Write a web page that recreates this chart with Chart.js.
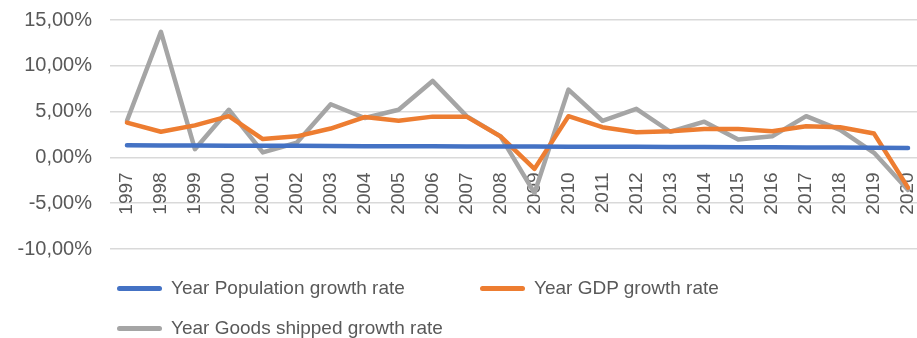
<!DOCTYPE html>
<html>
<head>
<meta charset="utf-8">
<script src="https://cdn.jsdelivr.net/npm/chart.js@4/dist/chart.umd.min.js"></script>
<style>
    html, body {
        margin: 0;
        padding: 0;
        overflow: hidden;
        background: #ffffff;
    }
    #wrap {
        position: relative;
        width: 926px;
        height: 338px;
    }
    #legend {
        position: absolute;
        left: 117px;
        top: 268px;
        display: grid;
        grid-template-columns: 363px auto;
        grid-auto-rows: 40px;
        align-items: center;
        font-family: "Liberation Sans", Arial, sans-serif;
        font-size: 19px;
        color: #595959;
    }
    #legend .item {
        display: flex;
        align-items: center;
        white-space: nowrap;
    }
    #legend .swatch {
        display: inline-block;
        width: 45px;
        height: 5px;
        border-radius: 3px;
        margin-right: 9px;
    }
</style>
</head>
<body>
<div id="wrap">
    <canvas id="growthChart"></canvas>
    <div id="legend"></div>
</div>
<script>
const years = ['1997', '1998', '1999', '2000', '2001', '2002', '2003', '2004', '2005', '2006', '2007', '2008',
    '2009', '2010', '2011', '2012', '2013', '2014', '2015', '2016', '2017', '2018', '2019', '2020'];

// growth rates in percent
const populationGrowth = [1.33, 1.31, 1.3, 1.28, 1.27, 1.26, 1.24, 1.23, 1.22, 1.21, 1.2, 1.2,
    1.19, 1.17, 1.16, 1.15, 1.14, 1.13, 1.12, 1.11, 1.09, 1.07, 1.05, 1.02];
const gdpGrowth = [3.8, 2.8, 3.5, 4.5, 2.0, 2.3, 3.15, 4.4, 4.0, 4.45, 4.45, 2.3,
    -1.25, 4.5, 3.3, 2.75, 2.85, 3.1, 3.1, 2.85, 3.4, 3.3, 2.6, -3.3];
const goodsShippedGrowth = [4.0, 13.7, 0.9, 5.2, 0.55, 1.6, 5.8, 4.3, 5.2, 8.35, 4.5, 2.3,
    -3.9, 7.4, 4.0, 5.3, 2.8, 3.9, 1.95, 2.3, 4.5, 3.0, 0.5, -3.55];

const yTicks = [-10, -5, 0, 5, 10, 15];

const textColor = '#595959';
const gridColor = '#d9d9d9';

function series(label, data, color) {
    return {
        label: label,
        data: data,
        borderColor: color,
        backgroundColor: color,
        borderWidth: 4.5,
        pointRadius: 0,
        pointHoverRadius: 0,
        tension: 0,
        borderJoinStyle: 'round',
        borderCapStyle: 'round',
        fill: false
    };
}

const ctx = document.getElementById('growthChart').getContext('2d');
const chart = new Chart(ctx, {
    type: 'line',
    data: {
        labels: years,
        datasets: [
            series('Year Population growth rate', populationGrowth, '#4472c4'),
            series('Year GDP growth rate', gdpGrowth, '#ed7d31'),
            series('Year Goods shipped growth rate', goodsShippedGrowth, '#a5a5a5')
        ]
    },
    options: {
        responsive: true,
        maintainAspectRatio: false,
        animation: false,
        layout: {
            padding: { top: 20, bottom: 89, left: 0, right: 1 }
        },
        plugins: {
            legend: { display: false },
            tooltip: { enabled: false }
        },
        scales: {
            x: {
                type: 'category',
                offset: true,
                position: { y: 0 }, // labels hang under the zero line
                grid: { display: false, drawTicks: false },
                border: { display: false },
                ticks: {
                    autoSkip: false,
                    minRotation: 90,
                    maxRotation: 90,
                    padding: 15,
                    color: textColor,
                    font: { family: '"Liberation Sans", Arial, sans-serif', size: 19 }
                },
                afterFit: function(scale) {
                    scale.paddingLeft = 0;
                    scale.paddingRight = 0;
                    scale.paddingTop = 0;
                    scale.paddingBottom = 0;
                }
            },
            y: {
                min: yTicks[0],
                max: yTicks[yTicks.length - 1],
                grid: { color: gridColor, lineWidth: 1.5, drawTicks: false },
                border: { display: false },
                afterBuildTicks: function(scale) {
                    scale.ticks = yTicks.map(v => ({ value: v }));
                },
                afterFit: function(scale) {
                    scale.width = 110;
                    scale.paddingTop = 0;
                    scale.paddingBottom = 0;
                },
                ticks: {
                    padding: 18,
                    color: textColor,
                    font: { family: '"Liberation Sans", Arial, sans-serif', size: 20 },
                    callback: function(value) {
                        return value.toFixed(2).replace('.', ',') + '%';
                    }
                }
            }
        }
    }
});

// legend laid out in two columns, built from the datasets
const legendBox = document.getElementById('legend');
chart.data.datasets.forEach(ds => {
    const item = document.createElement('div');
    item.className = 'item';
    const swatch = document.createElement('span');
    swatch.className = 'swatch';
    swatch.style.background = ds.borderColor;
    const text = document.createElement('span');
    text.textContent = ds.label;
    item.appendChild(swatch);
    item.appendChild(text);
    legendBox.appendChild(item);
});
</script>
</body>
</html>
